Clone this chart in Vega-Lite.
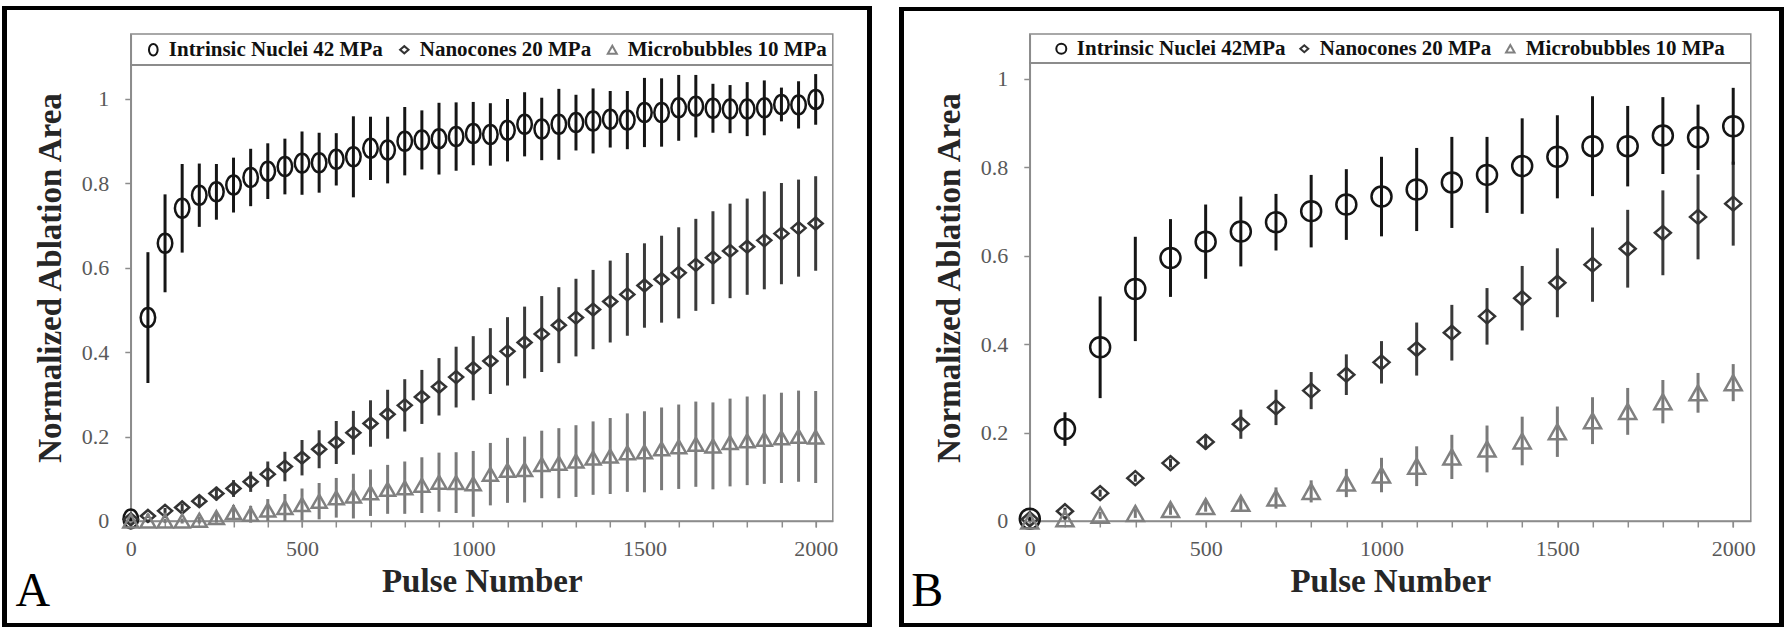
{
  "$schema": "https://vega.github.io/schema/vega-lite/v6.json",
  "background": "white",
  "padding": {"left": 1.8, "top": 5, "right": 0, "bottom": 0},
  "bounds": "flush",
  "spacing": 197,
  "datasets": {
    "A": [
      {"series": "Intrinsic Nuclei 42 MPa", "pulse": 0, "mean": 0.005, "err": 0.005},
      {"series": "Intrinsic Nuclei 42 MPa", "pulse": 50, "mean": 0.482, "err": 0.155},
      {"series": "Intrinsic Nuclei 42 MPa", "pulse": 100, "mean": 0.658, "err": 0.116},
      {"series": "Intrinsic Nuclei 42 MPa", "pulse": 150, "mean": 0.741, "err": 0.105},
      {"series": "Intrinsic Nuclei 42 MPa", "pulse": 200, "mean": 0.772, "err": 0.075},
      {"series": "Intrinsic Nuclei 42 MPa", "pulse": 250, "mean": 0.780, "err": 0.066},
      {"series": "Intrinsic Nuclei 42 MPa", "pulse": 300, "mean": 0.796, "err": 0.065},
      {"series": "Intrinsic Nuclei 42 MPa", "pulse": 350, "mean": 0.814, "err": 0.068},
      {"series": "Intrinsic Nuclei 42 MPa", "pulse": 400, "mean": 0.829, "err": 0.066},
      {"series": "Intrinsic Nuclei 42 MPa", "pulse": 450, "mean": 0.840, "err": 0.066},
      {"series": "Intrinsic Nuclei 42 MPa", "pulse": 500, "mean": 0.848, "err": 0.075},
      {"series": "Intrinsic Nuclei 42 MPa", "pulse": 550, "mean": 0.849, "err": 0.071},
      {"series": "Intrinsic Nuclei 42 MPa", "pulse": 600, "mean": 0.857, "err": 0.062},
      {"series": "Intrinsic Nuclei 42 MPa", "pulse": 650, "mean": 0.863, "err": 0.096},
      {"series": "Intrinsic Nuclei 42 MPa", "pulse": 700, "mean": 0.883, "err": 0.075},
      {"series": "Intrinsic Nuclei 42 MPa", "pulse": 750, "mean": 0.879, "err": 0.079},
      {"series": "Intrinsic Nuclei 42 MPa", "pulse": 800, "mean": 0.900, "err": 0.081},
      {"series": "Intrinsic Nuclei 42 MPa", "pulse": 850, "mean": 0.903, "err": 0.070},
      {"series": "Intrinsic Nuclei 42 MPa", "pulse": 900, "mean": 0.906, "err": 0.085},
      {"series": "Intrinsic Nuclei 42 MPa", "pulse": 950, "mean": 0.911, "err": 0.081},
      {"series": "Intrinsic Nuclei 42 MPa", "pulse": 1000, "mean": 0.918, "err": 0.075},
      {"series": "Intrinsic Nuclei 42 MPa", "pulse": 1050, "mean": 0.916, "err": 0.074},
      {"series": "Intrinsic Nuclei 42 MPa", "pulse": 1100, "mean": 0.926, "err": 0.074},
      {"series": "Intrinsic Nuclei 42 MPa", "pulse": 1150, "mean": 0.940, "err": 0.076},
      {"series": "Intrinsic Nuclei 42 MPa", "pulse": 1200, "mean": 0.929, "err": 0.074},
      {"series": "Intrinsic Nuclei 42 MPa", "pulse": 1250, "mean": 0.940, "err": 0.084},
      {"series": "Intrinsic Nuclei 42 MPa", "pulse": 1300, "mean": 0.944, "err": 0.066},
      {"series": "Intrinsic Nuclei 42 MPa", "pulse": 1350, "mean": 0.948, "err": 0.077},
      {"series": "Intrinsic Nuclei 42 MPa", "pulse": 1400, "mean": 0.952, "err": 0.067},
      {"series": "Intrinsic Nuclei 42 MPa", "pulse": 1450, "mean": 0.950, "err": 0.069},
      {"series": "Intrinsic Nuclei 42 MPa", "pulse": 1500, "mean": 0.968, "err": 0.082},
      {"series": "Intrinsic Nuclei 42 MPa", "pulse": 1550, "mean": 0.968, "err": 0.081},
      {"series": "Intrinsic Nuclei 42 MPa", "pulse": 1600, "mean": 0.979, "err": 0.078},
      {"series": "Intrinsic Nuclei 42 MPa", "pulse": 1650, "mean": 0.983, "err": 0.074},
      {"series": "Intrinsic Nuclei 42 MPa", "pulse": 1700, "mean": 0.978, "err": 0.058},
      {"series": "Intrinsic Nuclei 42 MPa", "pulse": 1750, "mean": 0.976, "err": 0.057},
      {"series": "Intrinsic Nuclei 42 MPa", "pulse": 1800, "mean": 0.976, "err": 0.064},
      {"series": "Intrinsic Nuclei 42 MPa", "pulse": 1850, "mean": 0.979, "err": 0.065},
      {"series": "Intrinsic Nuclei 42 MPa", "pulse": 1900, "mean": 0.987, "err": 0.040},
      {"series": "Intrinsic Nuclei 42 MPa", "pulse": 1950, "mean": 0.986, "err": 0.056},
      {"series": "Intrinsic Nuclei 42 MPa", "pulse": 2000, "mean": 0.999, "err": 0.060},
      {"series": "Nanocones 20 MPa", "pulse": 0, "mean": 0.004, "err": 0.003},
      {"series": "Nanocones 20 MPa", "pulse": 50, "mean": 0.012, "err": 0.005},
      {"series": "Nanocones 20 MPa", "pulse": 100, "mean": 0.024, "err": 0.007},
      {"series": "Nanocones 20 MPa", "pulse": 150, "mean": 0.032, "err": 0.009},
      {"series": "Nanocones 20 MPa", "pulse": 200, "mean": 0.047, "err": 0.012},
      {"series": "Nanocones 20 MPa", "pulse": 250, "mean": 0.065, "err": 0.016},
      {"series": "Nanocones 20 MPa", "pulse": 300, "mean": 0.077, "err": 0.020},
      {"series": "Nanocones 20 MPa", "pulse": 350, "mean": 0.093, "err": 0.024},
      {"series": "Nanocones 20 MPa", "pulse": 400, "mean": 0.111, "err": 0.030},
      {"series": "Nanocones 20 MPa", "pulse": 450, "mean": 0.129, "err": 0.035},
      {"series": "Nanocones 20 MPa", "pulse": 500, "mean": 0.150, "err": 0.042},
      {"series": "Nanocones 20 MPa", "pulse": 550, "mean": 0.170, "err": 0.045},
      {"series": "Nanocones 20 MPa", "pulse": 600, "mean": 0.186, "err": 0.051},
      {"series": "Nanocones 20 MPa", "pulse": 650, "mean": 0.209, "err": 0.052},
      {"series": "Nanocones 20 MPa", "pulse": 700, "mean": 0.231, "err": 0.055},
      {"series": "Nanocones 20 MPa", "pulse": 750, "mean": 0.253, "err": 0.058},
      {"series": "Nanocones 20 MPa", "pulse": 800, "mean": 0.274, "err": 0.062},
      {"series": "Nanocones 20 MPa", "pulse": 850, "mean": 0.294, "err": 0.064},
      {"series": "Nanocones 20 MPa", "pulse": 900, "mean": 0.318, "err": 0.068},
      {"series": "Nanocones 20 MPa", "pulse": 950, "mean": 0.341, "err": 0.072},
      {"series": "Nanocones 20 MPa", "pulse": 1000, "mean": 0.362, "err": 0.076},
      {"series": "Nanocones 20 MPa", "pulse": 1050, "mean": 0.379, "err": 0.078},
      {"series": "Nanocones 20 MPa", "pulse": 1100, "mean": 0.402, "err": 0.081},
      {"series": "Nanocones 20 MPa", "pulse": 1150, "mean": 0.423, "err": 0.085},
      {"series": "Nanocones 20 MPa", "pulse": 1200, "mean": 0.443, "err": 0.090},
      {"series": "Nanocones 20 MPa", "pulse": 1250, "mean": 0.464, "err": 0.090},
      {"series": "Nanocones 20 MPa", "pulse": 1300, "mean": 0.482, "err": 0.092},
      {"series": "Nanocones 20 MPa", "pulse": 1350, "mean": 0.501, "err": 0.094},
      {"series": "Nanocones 20 MPa", "pulse": 1400, "mean": 0.520, "err": 0.097},
      {"series": "Nanocones 20 MPa", "pulse": 1450, "mean": 0.537, "err": 0.098},
      {"series": "Nanocones 20 MPa", "pulse": 1500, "mean": 0.558, "err": 0.100},
      {"series": "Nanocones 20 MPa", "pulse": 1550, "mean": 0.573, "err": 0.103},
      {"series": "Nanocones 20 MPa", "pulse": 1600, "mean": 0.588, "err": 0.108},
      {"series": "Nanocones 20 MPa", "pulse": 1650, "mean": 0.607, "err": 0.109},
      {"series": "Nanocones 20 MPa", "pulse": 1700, "mean": 0.624, "err": 0.110},
      {"series": "Nanocones 20 MPa", "pulse": 1750, "mean": 0.640, "err": 0.112},
      {"series": "Nanocones 20 MPa", "pulse": 1800, "mean": 0.650, "err": 0.114},
      {"series": "Nanocones 20 MPa", "pulse": 1850, "mean": 0.665, "err": 0.116},
      {"series": "Nanocones 20 MPa", "pulse": 1900, "mean": 0.681, "err": 0.120},
      {"series": "Nanocones 20 MPa", "pulse": 1950, "mean": 0.694, "err": 0.115},
      {"series": "Nanocones 20 MPa", "pulse": 2000, "mean": 0.705, "err": 0.112},
      {"series": "Microbubbles 10 MPa", "pulse": 0, "mean": 0.000, "err": 0.003},
      {"series": "Microbubbles 10 MPa", "pulse": 50, "mean": 0.000, "err": 0.004},
      {"series": "Microbubbles 10 MPa", "pulse": 100, "mean": 0.000, "err": 0.005},
      {"series": "Microbubbles 10 MPa", "pulse": 150, "mean": 0.000, "err": 0.006},
      {"series": "Microbubbles 10 MPa", "pulse": 200, "mean": 0.002, "err": 0.008},
      {"series": "Microbubbles 10 MPa", "pulse": 250, "mean": 0.008, "err": 0.012},
      {"series": "Microbubbles 10 MPa", "pulse": 300, "mean": 0.020, "err": 0.018},
      {"series": "Microbubbles 10 MPa", "pulse": 350, "mean": 0.016, "err": 0.020},
      {"series": "Microbubbles 10 MPa", "pulse": 400, "mean": 0.026, "err": 0.026},
      {"series": "Microbubbles 10 MPa", "pulse": 450, "mean": 0.032, "err": 0.032},
      {"series": "Microbubbles 10 MPa", "pulse": 500, "mean": 0.039, "err": 0.038},
      {"series": "Microbubbles 10 MPa", "pulse": 550, "mean": 0.047, "err": 0.043},
      {"series": "Microbubbles 10 MPa", "pulse": 600, "mean": 0.055, "err": 0.047},
      {"series": "Microbubbles 10 MPa", "pulse": 650, "mean": 0.059, "err": 0.053},
      {"series": "Microbubbles 10 MPa", "pulse": 700, "mean": 0.067, "err": 0.055},
      {"series": "Microbubbles 10 MPa", "pulse": 750, "mean": 0.075, "err": 0.058},
      {"series": "Microbubbles 10 MPa", "pulse": 800, "mean": 0.079, "err": 0.062},
      {"series": "Microbubbles 10 MPa", "pulse": 850, "mean": 0.085, "err": 0.066},
      {"series": "Microbubbles 10 MPa", "pulse": 900, "mean": 0.092, "err": 0.070},
      {"series": "Microbubbles 10 MPa", "pulse": 950, "mean": 0.091, "err": 0.072},
      {"series": "Microbubbles 10 MPa", "pulse": 1000, "mean": 0.088, "err": 0.078},
      {"series": "Microbubbles 10 MPa", "pulse": 1050, "mean": 0.111, "err": 0.074},
      {"series": "Microbubbles 10 MPa", "pulse": 1100, "mean": 0.120, "err": 0.077},
      {"series": "Microbubbles 10 MPa", "pulse": 1150, "mean": 0.122, "err": 0.078},
      {"series": "Microbubbles 10 MPa", "pulse": 1200, "mean": 0.134, "err": 0.080},
      {"series": "Microbubbles 10 MPa", "pulse": 1250, "mean": 0.137, "err": 0.083},
      {"series": "Microbubbles 10 MPa", "pulse": 1300, "mean": 0.142, "err": 0.085},
      {"series": "Microbubbles 10 MPa", "pulse": 1350, "mean": 0.149, "err": 0.087},
      {"series": "Microbubbles 10 MPa", "pulse": 1400, "mean": 0.154, "err": 0.090},
      {"series": "Microbubbles 10 MPa", "pulse": 1450, "mean": 0.162, "err": 0.093},
      {"series": "Microbubbles 10 MPa", "pulse": 1500, "mean": 0.164, "err": 0.096},
      {"series": "Microbubbles 10 MPa", "pulse": 1550, "mean": 0.171, "err": 0.098},
      {"series": "Microbubbles 10 MPa", "pulse": 1600, "mean": 0.176, "err": 0.100},
      {"series": "Microbubbles 10 MPa", "pulse": 1650, "mean": 0.182, "err": 0.101},
      {"series": "Microbubbles 10 MPa", "pulse": 1700, "mean": 0.178, "err": 0.103},
      {"series": "Microbubbles 10 MPa", "pulse": 1750, "mean": 0.186, "err": 0.104},
      {"series": "Microbubbles 10 MPa", "pulse": 1800, "mean": 0.190, "err": 0.105},
      {"series": "Microbubbles 10 MPa", "pulse": 1850, "mean": 0.194, "err": 0.106},
      {"series": "Microbubbles 10 MPa", "pulse": 1900, "mean": 0.197, "err": 0.107},
      {"series": "Microbubbles 10 MPa", "pulse": 1950, "mean": 0.201, "err": 0.108},
      {"series": "Microbubbles 10 MPa", "pulse": 2000, "mean": 0.199, "err": 0.109}
    ],
    "B": [
      {"series": "Intrinsic Nuclei 42MPa", "pulse": 0, "mean": 0.005, "err": 0.004},
      {"series": "Intrinsic Nuclei 42MPa", "pulse": 100, "mean": 0.208, "err": 0.038},
      {"series": "Intrinsic Nuclei 42MPa", "pulse": 200, "mean": 0.393, "err": 0.115},
      {"series": "Intrinsic Nuclei 42MPa", "pulse": 300, "mean": 0.525, "err": 0.118},
      {"series": "Intrinsic Nuclei 42MPa", "pulse": 400, "mean": 0.595, "err": 0.088},
      {"series": "Intrinsic Nuclei 42MPa", "pulse": 500, "mean": 0.632, "err": 0.084},
      {"series": "Intrinsic Nuclei 42MPa", "pulse": 600, "mean": 0.655, "err": 0.079},
      {"series": "Intrinsic Nuclei 42MPa", "pulse": 700, "mean": 0.676, "err": 0.064},
      {"series": "Intrinsic Nuclei 42MPa", "pulse": 800, "mean": 0.701, "err": 0.082},
      {"series": "Intrinsic Nuclei 42MPa", "pulse": 900, "mean": 0.716, "err": 0.080},
      {"series": "Intrinsic Nuclei 42MPa", "pulse": 1000, "mean": 0.734, "err": 0.090},
      {"series": "Intrinsic Nuclei 42MPa", "pulse": 1100, "mean": 0.750, "err": 0.094},
      {"series": "Intrinsic Nuclei 42MPa", "pulse": 1200, "mean": 0.766, "err": 0.103},
      {"series": "Intrinsic Nuclei 42MPa", "pulse": 1300, "mean": 0.783, "err": 0.086},
      {"series": "Intrinsic Nuclei 42MPa", "pulse": 1400, "mean": 0.803, "err": 0.108},
      {"series": "Intrinsic Nuclei 42MPa", "pulse": 1500, "mean": 0.824, "err": 0.094},
      {"series": "Intrinsic Nuclei 42MPa", "pulse": 1600, "mean": 0.848, "err": 0.113},
      {"series": "Intrinsic Nuclei 42MPa", "pulse": 1700, "mean": 0.848, "err": 0.091},
      {"series": "Intrinsic Nuclei 42MPa", "pulse": 1800, "mean": 0.872, "err": 0.087},
      {"series": "Intrinsic Nuclei 42MPa", "pulse": 1900, "mean": 0.868, "err": 0.074},
      {"series": "Intrinsic Nuclei 42MPa", "pulse": 2000, "mean": 0.893, "err": 0.087},
      {"series": "Nanocones 20 MPa", "pulse": 0, "mean": 0.004, "err": 0.003},
      {"series": "Nanocones 20 MPa", "pulse": 100, "mean": 0.022, "err": 0.008},
      {"series": "Nanocones 20 MPa", "pulse": 200, "mean": 0.063, "err": 0.008},
      {"series": "Nanocones 20 MPa", "pulse": 300, "mean": 0.097, "err": 0.008},
      {"series": "Nanocones 20 MPa", "pulse": 400, "mean": 0.131, "err": 0.010},
      {"series": "Nanocones 20 MPa", "pulse": 500, "mean": 0.179, "err": 0.017},
      {"series": "Nanocones 20 MPa", "pulse": 600, "mean": 0.219, "err": 0.033},
      {"series": "Nanocones 20 MPa", "pulse": 700, "mean": 0.257, "err": 0.040},
      {"series": "Nanocones 20 MPa", "pulse": 800, "mean": 0.295, "err": 0.042},
      {"series": "Nanocones 20 MPa", "pulse": 900, "mean": 0.331, "err": 0.046},
      {"series": "Nanocones 20 MPa", "pulse": 1000, "mean": 0.359, "err": 0.048},
      {"series": "Nanocones 20 MPa", "pulse": 1100, "mean": 0.389, "err": 0.060},
      {"series": "Nanocones 20 MPa", "pulse": 1200, "mean": 0.426, "err": 0.063},
      {"series": "Nanocones 20 MPa", "pulse": 1300, "mean": 0.463, "err": 0.064},
      {"series": "Nanocones 20 MPa", "pulse": 1400, "mean": 0.504, "err": 0.073},
      {"series": "Nanocones 20 MPa", "pulse": 1500, "mean": 0.539, "err": 0.078},
      {"series": "Nanocones 20 MPa", "pulse": 1600, "mean": 0.580, "err": 0.084},
      {"series": "Nanocones 20 MPa", "pulse": 1700, "mean": 0.616, "err": 0.088},
      {"series": "Nanocones 20 MPa", "pulse": 1800, "mean": 0.652, "err": 0.096},
      {"series": "Nanocones 20 MPa", "pulse": 1900, "mean": 0.688, "err": 0.096},
      {"series": "Nanocones 20 MPa", "pulse": 2000, "mean": 0.718, "err": 0.095},
      {"series": "Microbubbles 10 MPa", "pulse": 0, "mean": 0.000, "err": 0.003},
      {"series": "Microbubbles 10 MPa", "pulse": 100, "mean": 0.005, "err": 0.004},
      {"series": "Microbubbles 10 MPa", "pulse": 200, "mean": 0.013, "err": 0.008},
      {"series": "Microbubbles 10 MPa", "pulse": 300, "mean": 0.017, "err": 0.010},
      {"series": "Microbubbles 10 MPa", "pulse": 400, "mean": 0.026, "err": 0.012},
      {"series": "Microbubbles 10 MPa", "pulse": 500, "mean": 0.033, "err": 0.012},
      {"series": "Microbubbles 10 MPa", "pulse": 600, "mean": 0.040, "err": 0.015},
      {"series": "Microbubbles 10 MPa", "pulse": 700, "mean": 0.052, "err": 0.024},
      {"series": "Microbubbles 10 MPa", "pulse": 800, "mean": 0.067, "err": 0.025},
      {"series": "Microbubbles 10 MPa", "pulse": 900, "mean": 0.086, "err": 0.032},
      {"series": "Microbubbles 10 MPa", "pulse": 1000, "mean": 0.104, "err": 0.039},
      {"series": "Microbubbles 10 MPa", "pulse": 1100, "mean": 0.124, "err": 0.045},
      {"series": "Microbubbles 10 MPa", "pulse": 1200, "mean": 0.145, "err": 0.050},
      {"series": "Microbubbles 10 MPa", "pulse": 1300, "mean": 0.163, "err": 0.053},
      {"series": "Microbubbles 10 MPa", "pulse": 1400, "mean": 0.181, "err": 0.055},
      {"series": "Microbubbles 10 MPa", "pulse": 1500, "mean": 0.202, "err": 0.057},
      {"series": "Microbubbles 10 MPa", "pulse": 1600, "mean": 0.227, "err": 0.053},
      {"series": "Microbubbles 10 MPa", "pulse": 1700, "mean": 0.248, "err": 0.053},
      {"series": "Microbubbles 10 MPa", "pulse": 1800, "mean": 0.270, "err": 0.049},
      {"series": "Microbubbles 10 MPa", "pulse": 1900, "mean": 0.290, "err": 0.045},
      {"series": "Microbubbles 10 MPa", "pulse": 2000, "mean": 0.313, "err": 0.042}
    ]
  },
  "hconcat": [
    {
      "width": 702,
      "height": 487,
      "data": {"name": "A"},
      "title": {"text": "A", "orient": "bottom", "anchor": "start", "frame": "bounds", "baseline": "alphabetic", "offset": -21, "dx": 13, "fontSize": 48, "font": "Liberation Serif", "fontWeight": "normal", "color": "#000000"},
      "resolve": {"axis": {"x": "independent"}},
      "layer": [
        {
          "mark": {"type": "rect", "fill": "transparent", "stroke": "#000000", "strokeWidth": 4, "clip": false},
          "encoding": {
            "x": {"datum": -368.5, "type": "quantitative", "axis": {"orient": "bottom", "values": [0,100,200,300,400,500,600,700,800,900,1000,1100,1200,1300,1400,1500,1600,1700,1800,1900,2000], "labels": false, "title": null}},
            "x2": {"datum": 2158},
            "y": {"datum": 1.2156, "type": "quantitative"},
            "y2": {"datum": -0.2464}
          }
        },
        {
          "mark": {"type": "rule", "color": "#8c8c8c", "strokeWidth": 1.5},
          "encoding": {"y": {"datum": 1.0806, "type": "quantitative"}}
        },
        {
          "transform": [{"filter": "datum.series === 'Microbubbles 10 MPa'"}],
          "mark": {"type": "errorbar", "color": "#7a7a7a", "thickness": 3},
          "encoding": {
            "x": {"field": "pulse", "type": "quantitative", "axis": null},
            "y": {"field": "mean", "type": "quantitative", "title": "Normalized Ablation Area"},
            "yError": {"field": "err"}
          }
        },
        {
          "transform": [{"filter": "datum.series === 'Nanocones 20 MPa'"}],
          "mark": {"type": "errorbar", "color": "#3a3a3a", "thickness": 3},
          "encoding": {
            "x": {"field": "pulse", "type": "quantitative", "axis": null},
            "y": {"field": "mean", "type": "quantitative", "title": "Normalized Ablation Area"},
            "yError": {"field": "err"}
          }
        },
        {
          "transform": [{"filter": "datum.series === 'Intrinsic Nuclei 42 MPa'"}],
          "mark": {"type": "errorbar", "color": "#151515", "thickness": 3},
          "encoding": {
            "x": {"field": "pulse", "type": "quantitative", "axis": null},
            "y": {"field": "mean", "type": "quantitative", "title": "Normalized Ablation Area"},
            "yError": {"field": "err"}
          }
        },
        {
          "mark": {"type": "point", "filled": false, "strokeWidth": 2.5, "opacity": 1, "size": 100},
          "encoding": {
            "x": {"field": "pulse", "type": "quantitative", "title": "Pulse Number", "scale": {"domain": [0, 2050], "nice": false, "zero": false},
                  "axis": {"orient": "bottom", "values": [0, 500, 1000, 1500, 2000], "format": "d", "domain": false, "labelOverlap": false}},
            "y": {"field": "mean", "type": "quantitative", "title": "Normalized Ablation Area", "scale": {"domain": [0, 1.154], "nice": false, "zero": false},
                  "axis": {"values": [0, 0.2, 0.4, 0.6, 0.8, 1], "format": "~g", "labelOverlap": false}},
            "color": {"field": "series", "type": "nominal", "sort": null,
                      "scale": {"domain": ["Intrinsic Nuclei 42 MPa", "Nanocones 20 MPa", "Microbubbles 10 MPa"], "range": ["#151515", "#333333", "#808080"]},
                      "legend": {"orient": "none", "legendX": 12, "legendY": 5, "direction": "horizontal", "title": null, "columnPadding": 10, "labelOffset": 5, "symbolSize": 36}},
            "shape": {"field": "series", "type": "nominal", "sort": null,
                      "scale": {"domain": ["Intrinsic Nuclei 42 MPa", "Nanocones 20 MPa", "Microbubbles 10 MPa"], "range": ["M0,-1.9A1.45,1.9,0,1,1,0,1.9A1.45,1.9,0,1,1,0,-1.9Z", "M-1.4,0L0,-1.2L1.4,0L0,1.2Z", "M0,-1.3L1.5,1.3L-1.5,1.3Z"]},
                      "legend": {"orient": "none", "legendX": 12, "legendY": 5, "direction": "horizontal", "title": null, "columnPadding": 10, "labelOffset": 5, "symbolSize": 36}}
          }
        }
      ]
    },
    {
      "width": 721,
      "height": 487,
      "data": {"name": "B"},
      "title": {"text": "B", "orient": "bottom", "anchor": "start", "frame": "bounds", "baseline": "alphabetic", "offset": -21, "dx": 12, "fontSize": 48, "font": "Liberation Serif", "fontWeight": "normal", "color": "#000000"},
      "resolve": {"axis": {"x": "independent"}},
      "layer": [
        {
          "mark": {"type": "rect", "fill": "transparent", "stroke": "#000000", "strokeWidth": 4, "clip": false},
          "encoding": {
            "x": {"datum": -365.4, "type": "quantitative", "axis": {"orient": "bottom", "values": [0,100,200,300,400,500,600,700,800,900,1000,1100,1200,1300,1400,1500,1600,1700,1800,1900,2000], "labels": false, "title": null}},
            "x2": {"datum": 2138.2},
            "y": {"datum": 1.1584, "type": "quantitative"},
            "y2": {"datum": -0.2353}
          }
        },
        {
          "mark": {"type": "rule", "color": "#8c8c8c", "strokeWidth": 1.5},
          "encoding": {"y": {"datum": 1.0369, "type": "quantitative"}}
        },
        {
          "transform": [{"filter": "datum.series === 'Microbubbles 10 MPa'"}],
          "mark": {"type": "errorbar", "color": "#7a7a7a", "thickness": 3},
          "encoding": {
            "x": {"field": "pulse", "type": "quantitative", "axis": null},
            "y": {"field": "mean", "type": "quantitative", "title": "Normalized Ablation Area"},
            "yError": {"field": "err"}
          }
        },
        {
          "transform": [{"filter": "datum.series === 'Nanocones 20 MPa'"}],
          "mark": {"type": "errorbar", "color": "#3a3a3a", "thickness": 3},
          "encoding": {
            "x": {"field": "pulse", "type": "quantitative", "axis": null},
            "y": {"field": "mean", "type": "quantitative", "title": "Normalized Ablation Area"},
            "yError": {"field": "err"}
          }
        },
        {
          "transform": [{"filter": "datum.series === 'Intrinsic Nuclei 42MPa'"}],
          "mark": {"type": "errorbar", "color": "#151515", "thickness": 3},
          "encoding": {
            "x": {"field": "pulse", "type": "quantitative", "axis": null},
            "y": {"field": "mean", "type": "quantitative", "title": "Normalized Ablation Area"},
            "yError": {"field": "err"}
          }
        },
        {
          "mark": {"type": "point", "filled": false, "strokeWidth": 2.5, "opacity": 1, "size": 100},
          "encoding": {
            "x": {"field": "pulse", "type": "quantitative", "title": "Pulse Number", "scale": {"domain": [0, 2050], "nice": false, "zero": false},
                  "axis": {"orient": "bottom", "values": [0, 500, 1000, 1500, 2000], "format": "d", "domain": false, "labelOverlap": false}},
            "y": {"field": "mean", "type": "quantitative", "title": "Normalized Ablation Area", "scale": {"domain": [0, 1.1018], "nice": false, "zero": false},
                  "axis": {"values": [0, 0.2, 0.4, 0.6, 0.8, 1], "format": "~g", "labelOverlap": false}},
            "color": {"field": "series", "type": "nominal", "sort": null,
                      "scale": {"domain": ["Intrinsic Nuclei 42MPa", "Nanocones 20 MPa", "Microbubbles 10 MPa"], "range": ["#151515", "#333333", "#808080"]},
                      "legend": {"orient": "none", "legendX": 21, "legendY": 4, "direction": "horizontal", "title": null, "columnPadding": 8, "labelOffset": 5, "symbolSize": 25}},
            "shape": {"field": "series", "type": "nominal", "sort": null,
                      "scale": {"domain": ["Intrinsic Nuclei 42MPa", "Nanocones 20 MPa", "Microbubbles 10 MPa"], "range": ["M0,-2A2,2,0,1,1,0,2A2,2,0,1,1,0,-2Z", "M-1.6,0L0,-1.4L1.6,0L0,1.4Z", "M0,-1.5L1.7,1.5L-1.7,1.5Z"]},
                      "legend": {"orient": "none", "legendX": 21, "legendY": 4, "direction": "horizontal", "title": null, "columnPadding": 8, "labelOffset": 5, "symbolSize": 25}}
          }
        }
      ]
    }
  ],
  "resolve": {"scale": {"color": "independent", "shape": "independent", "x": "independent", "y": "independent"}, "legend": {"color": "independent", "shape": "independent"}},
  "config": {
    "font": "Liberation Serif",
    "view": {"stroke": "#8c8c8c", "strokeWidth": 1.5},
    "axis": {
      "grid": false,
      "domainColor": "#8c8c8c",
      "domainWidth": 1.5,
      "tickColor": "#8c8c8c",
      "tickWidth": 1.5,
      "tickSize": 6,
      "labelFont": "Liberation Serif",
      "labelFontSize": 22,
      "labelColor": "#595959",
      "labelOverlap": false,
      "labelFlush": false,
      "titleFont": "Liberation Serif",
      "titleFontSize": 33,
      "titleFontWeight": "bold",
      "titleColor": "#262626"
    },
    "axisX": {"labelPadding": 12, "titlePadding": 6},
    "axisY": {"labelPadding": 16, "titlePadding": 14},
    "legend": {
      "padding": 0,
      "symbolStrokeWidth": 2,
      "labelFont": "Liberation Serif",
      "labelFontSize": 21,
      "labelFontWeight": "bold",
      "labelColor": "#111111",
      "labelLimit": 400
    }
  }
}
